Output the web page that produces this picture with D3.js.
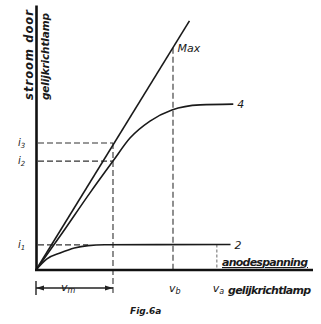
<!DOCTYPE html>
<html>
<head>
<meta charset="utf-8">
<script src="https://cdn.jsdelivr.net/npm/d3@7"></script>
<style>
  html, body { margin: 0; padding: 0; background: #fff; }
  svg { display: block; }
  text { font-family: "DejaVu Sans", sans-serif; font-style: italic; fill: #1a1a1a; }
</style>
</head>
<body>
<svg id="chart" width="321" height="324"></svg>
<script>
// values (arbitrary units, 0..100 on each axis)
const maxV = [0, 56];
const maxI = [0, 94];
const curve4V = [0, 8.8, 19.7, 28.1, 34.3, 41.6, 49.6, 59.9, 72];
const curve4I = [0, 12.8, 29.1, 41.1, 49.8, 56.2, 60.4, 62.3, 62.6];
const curve2V = [0, 4, 8.8, 14, 19, 25, 71];
const curve2I = [0, 4.2, 6.4, 8.3, 9.2, 9.5, 9.6];
const iNames = ['1', '2', '3'];
const iValues = [9.5, 41.1, 47.9];
const iEnds = [19, 28.1, 28.1];
const vNames = ['m', 'b', 'a'];
const vValues = [28.1, 50, 66];
const vTops = [47.9, 83.9, 9.6];

const svg = d3.select('#chart');
const x = d3.scaleLinear().domain([0, 100]).range([36, 310]);
const y = d3.scaleLinear().domain([0, 100]).range([270, 5]);

const zip = (a, b) => a.map((d, i) => [d, b[i]]);
const line = d3.line().x(d => x(d[0])).y(d => y(d[1]));
const smooth = d3.line().x(d => x(d[0])).y(d => y(d[1])).curve(d3.curveMonotoneX);

// dashed guides
const dash = svg.append('g')
  .attr('stroke', '#333')
  .attr('stroke-width', 1.1)
  .attr('stroke-dasharray', '6,3')
  .attr('fill', 'none');

iValues.forEach((v, i) => {
  dash.append('line')
    .attr('x1', x(0) + 2).attr('x2', x(iEnds[i]))
    .attr('y1', y(v)).attr('y2', y(v));
});
vValues.forEach((v, i) => {
  dash.append('line')
    .attr('x1', x(v)).attr('x2', x(v))
    .attr('y1', y(vTops[i]))
    .attr('y2', i == 0 ? 295 : y(0))
    .attr('stroke-dasharray', i == 2 ? '3,2' : '6,3')
    .attr('stroke', i == 2 ? '#777' : '#333');
});

// curves
svg.append('path')
  .attr('d', line(zip(maxV, maxI)))
  .attr('fill', 'none').attr('stroke', '#1a1a1a').attr('stroke-width', 1.6);
svg.append('path')
  .attr('d', smooth(zip(curve4V, curve4I)))
  .attr('fill', 'none').attr('stroke', '#1a1a1a').attr('stroke-width', 1.6);
svg.append('path')
  .attr('d', smooth(zip(curve2V, curve2I)))
  .attr('fill', 'none').attr('stroke', '#1a1a1a').attr('stroke-width', 1.6);

// axes
const xAxis = svg.append('g')
  .attr('transform', `translate(0,${y(0)})`)
  .call(d3.axisBottom(x).tickValues([]).tickSizeOuter(0));
const yAxis = svg.append('g')
  .attr('transform', `translate(${x(0)},0)`)
  .call(d3.axisLeft(y).tickValues([]).tickSizeOuter(0));
svg.selectAll('.domain').attr('stroke', '#111').attr('stroke-width', 2.6);
xAxis.select('.domain').attr('d', `M${x(0) - 1},0H${x(100) + 3}`);

// curve labels
svg.append('text').attr('x', x(maxV[1]) - 12).attr('y', 52)
  .attr('font-size', 11).text('Max');
svg.append('text').attr('x', x(curve4V[curve4V.length - 1]) + 4).attr('y', y(62.6) + 4)
  .attr('font-size', 11).text('4');
svg.append('text').attr('x', x(curve2V[curve2V.length - 1]) + 4).attr('y', y(9.6) + 4)
  .attr('font-size', 11).text('2');

// current labels
iNames.forEach((n, i) => {
  const t = svg.append('text').attr('x', 18).attr('y', y(iValues[i]) + 3)
    .attr('font-size', 10);
  t.append('tspan').text('i');
  t.append('tspan').attr('font-size', 7).attr('dy', 2).text(n);
});

// voltage labels
vNames.forEach((n, i) => {
  if (i == 0) return;
  const t = svg.append('text').attr('x', x(vValues[i]) - 4).attr('y', 292)
    .attr('font-size', 11);
  t.append('tspan').text('v');
  t.append('tspan').attr('font-size', 8).attr('dy', 2).text(n);
});
svg.append('text').attr('x', 228).attr('y', 294)
  .attr('font-size', 11).attr('font-weight', 'bold').attr('textLength', 83).text('gelijkrichtlamp');
svg.append('text').attr('x', 222).attr('y', 266)
  .attr('font-size', 11).attr('font-weight', 'bold').attr('textLength', 86)
  .attr('text-decoration', 'underline').text('anodespanning');

// v_m span arrow
const arrowY = 288;
const span = svg.append('g').attr('stroke', '#222').attr('stroke-width', 1.4).attr('fill', '#222');
span.append('line').attr('x1', x(0)).attr('x2', x(0)).attr('y1', 281).attr('y2', 295);
span.append('line').attr('x1', x(0)).attr('x2', x(vValues[0])).attr('y1', arrowY).attr('y2', arrowY);
span.append('path').attr('stroke', 'none')
  .attr('d', `M${x(0)},${arrowY}l8,-2.5v5z`);
span.append('path').attr('stroke', 'none')
  .attr('d', `M${x(vValues[0])},${arrowY}l-8,-2.5v5z`);
const vm = svg.append('text').attr('x', 61).attr('y', 291).attr('font-size', 11);
vm.append('tspan').text('v');
vm.append('tspan').attr('font-size', 8).attr('dy', 2).text('m');

// y title
svg.append('text').attr('transform', 'translate(33,100) rotate(-90)')
  .attr('font-size', 11.5).attr('font-weight', 'bold').attr('textLength', 90).text('stroom door');
svg.append('text').attr('transform', 'translate(48.5,100) rotate(-90)')
  .attr('font-size', 10.5).attr('font-weight', 'bold').attr('textLength', 87).text('gelijkrichtlamp');

// figure caption
svg.append('text').attr('x', 130).attr('y', 314)
  .attr('font-size', 9).attr('font-weight', 'bold').text('Fig.6a');
</script>
</body>
</html>
